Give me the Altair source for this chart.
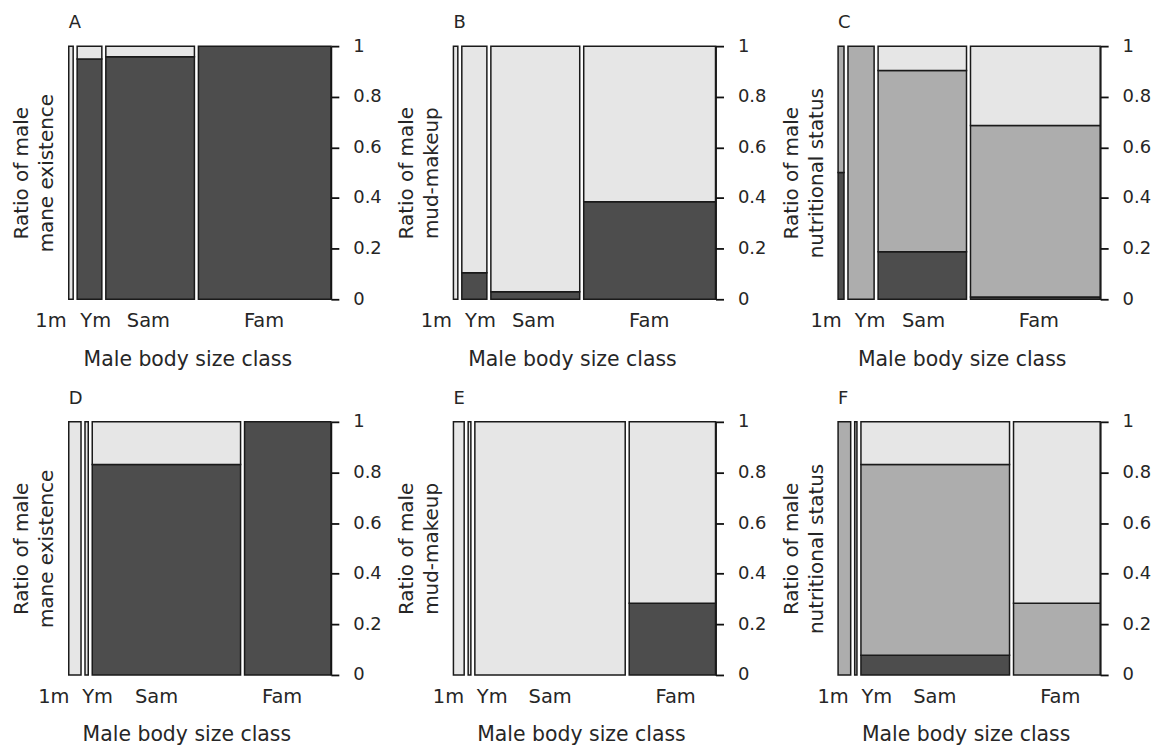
import altair as alt
import pandas as pd

FONT = "DejaVu Sans"
W, H = 263, 254

classes = ["1m", "Ym", "Sam", "Fam"]
panel_letters = ["A", "B", "C", "D", "E", "F"]
y_titles = [
    ["Ratio of male", "mane existence"],
    ["Ratio of male", "mud-makeup"],
    ["Ratio of male", "nutritional status"],
    ["Ratio of male", "mane existence"],
    ["Ratio of male", "mud-makeup"],
    ["Ratio of male", "nutritional status"],
]

# column widths (share of males in each body size class)
widths_A = [0.0176, 0.0987, 0.3542, 0.5295]
widths_B = [0.0176, 0.1002, 0.3553, 0.5269]
widths_C = [0.0236, 0.1045, 0.3535, 0.5185]
widths_D = [0.0490, 0.0130, 0.5930, 0.3450]
widths_E = [0.0430, 0.0108, 0.6010, 0.3450]
widths_F = [0.0504, 0.0091, 0.5940, 0.3464]

# stacked shares from the bottom: dark, medium (rest = light)
dark_A = [0.0, 0.949, 0.958, 1.0]
medium_A = [0.0, 0.0, 0.0, 0.0]
dark_B = [0.0, 0.105, 0.030, 0.385]
medium_B = [0.0, 0.0, 0.0, 0.0]
dark_C = [0.501, 0.0, 0.188, 0.009]
medium_C = [0.499, 1.0, 0.716, 0.677]
dark_D = [0.0, 0.0, 0.831, 1.0]
medium_D = [0.0, 0.0, 0.0, 0.0]
dark_E = [0.0, 0.0, 0.0, 0.283]
medium_E = [0.0, 0.0, 0.0, 0.0]
dark_F = [0.0, 0.0, 0.078, 0.0]
medium_F = [1.0, 1.0, 0.753, 0.283]

# tick-label positions for the class names (in x-scale units)
label_pos_A = [-0.068, 0.103, 0.304, 0.745]
label_pos_B = [-0.065, 0.103, 0.306, 0.747]
label_pos_C = [-0.046, 0.122, 0.326, 0.766]
label_pos_D = [-0.057, 0.110, 0.335, 0.814]
label_pos_E = [-0.019, 0.148, 0.369, 0.848]
label_pos_F = [-0.019, 0.148, 0.369, 0.848]

widths = [widths_A, widths_B, widths_C, widths_D, widths_E, widths_F]
darks = [dark_A, dark_B, dark_C, dark_D, dark_E, dark_F]
mediums = [medium_A, medium_B, medium_C, medium_D, medium_E, medium_F]
label_pos = [label_pos_A, label_pos_B, label_pos_C, label_pos_D, label_pos_E, label_pos_F]
title_x = [119, 119, 124, 118, 128, 128]

GAP = 4 / W
shade_domain = ["dark", "medium", "light"]
shade_range = ["#4d4d4d", "#adadad", "#e6e6e6"]
TXT = "#262626"


def panel(i):
    w = widths[i]
    tot = sum(w)
    avail = 1 - 3 * GAP
    rows = []
    cum = 0.0
    for j, c in enumerate(classes):
        x0 = cum / tot * avail + j * GAP
        x1 = x0 + w[j] / tot * avail
        cum += w[j]
        d = darks[i][j]
        m = mediums[i][j]
        lgt = max(0.0, 1 - d - m)
        y = 0.0
        for shade, v in zip(shade_domain, [d, m, lgt]):
            if v > 0.0005:
                rows.append({"cls": c, "x0": x0, "x1": x1, "y0": y, "y1": min(1.0, y + v), "shade": shade})
                y += v
    df = pd.DataFrame(rows)
    lab = pd.DataFrame({"label": classes, "pos": label_pos[i]})
    xscale = alt.Scale(domain=[0, 1], nice=False, zero=False)
    yscale = alt.Scale(domain=[0, 1], nice=False)
    xaxis = alt.Axis(title="Male body size class", labels=False, ticks=False,
                     domain=False, grid=False, titleX=title_x[i], titlePadding=50,
                     titleFontSize=20.5, titleFont=FONT, titleFontWeight="normal",
                     titleColor=TXT)

    rects = alt.Chart(df).mark_rect(stroke="#1a1a1a", strokeWidth=1.5).encode(
        x=alt.X("x0:Q", scale=xscale, axis=xaxis),
        x2="x1:Q",
        y=alt.Y("y0:Q", scale=yscale,
                axis=alt.Axis(orient="right", values=[0, 0.2, 0.4, 0.6, 0.8, 1], format="~g",
                              title=None, grid=False, tickSize=8, tickWidth=1.8, domainWidth=1.8,
                              domainColor="#111", tickColor="#111", labelPadding=14,
                              labelFontSize=18, labelFont=FONT, labelColor=TXT)),
        y2="y1:Q",
        color=alt.Color("shade:N", scale=alt.Scale(domain=shade_domain, range=shade_range), legend=None),
    )
    ghost = alt.Chart(df).mark_rule(opacity=0).encode(
        y=alt.Y("y0:Q", scale=yscale,
                axis=alt.Axis(orient="left", labels=False, ticks=False, domain=False, grid=False,
                              title=y_titles[i], titlePadding=12, titleFontSize=20, titleFont=FONT,
                              titleFontWeight="normal", titleLineHeight=25, titleColor=TXT)),
    )
    texts = alt.Chart(lab).mark_text(fontSize=19.5, font=FONT, color=TXT, baseline="middle").encode(
        x=alt.X("pos:Q", scale=xscale, axis=xaxis),
        y=alt.value(H + 22),
        text="label:N",
    )
    return alt.layer(rects, ghost, texts).resolve_axis(y="independent").properties(
        width=W, height=H,
        title=alt.TitleParams(text=panel_letters[i], anchor="start", frame="group", fontSize=18,
                              font=FONT, fontWeight="normal", color=TXT, offset=5),
    )


chart = alt.concat(
    *[panel(i) for i in range(6)],
    columns=3,
    spacing={"row": 123, "column": 123},
    bounds="flush",
).properties(
    padding={"left": 12, "top": 13, "right": 0, "bottom": 0}
).configure_view(stroke=None)

chart.save("out.html", embed_options={"renderer": "svg", "actions": False})
